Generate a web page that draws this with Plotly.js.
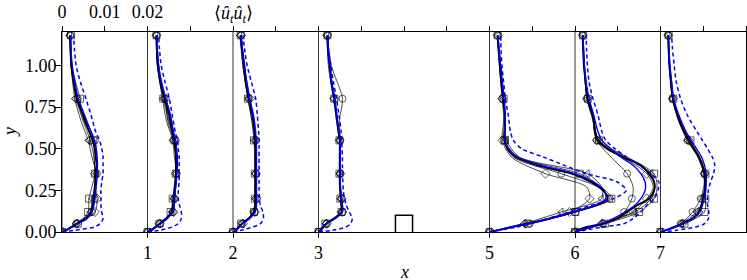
<!DOCTYPE html>
<html><head><meta charset="utf-8">
<script src="https://cdn.plot.ly/plotly-3.0.1.min.js"></script>
<style>html,body{margin:0;padding:0;background:#fff}</style>
</head><body><div id="chart" style="width:747px;height:280px"></div>
<script>
// Stations (x positions of the profiles)
const stations = [0, 1, 2, 3, 5, 6, 7];
const xTickVals = [1, 2, 3, 5, 6, 7];
const xTickText = ['1', '2', '3', '5', '6', '7'];
const yTickVals = [0, 0.25, 0.5, 0.75, 1.0];
const yTickText = ['0.00', '0.25', '0.50', '0.75', '1.00'];
const topTickVals = [0, 0.01, 0.02, 0.03, 0.04, 0.05, 0.06, 0.07, 0.08, 0.09, 0.10, 0.11, 0.12, 0.13, 0.14, 0.15, 0.16];
const topTickText = ['0', '0.01', '0.02', ' ', ' ', ' ', ' ', ' ', ' ', ' ', ' ', ' ', ' ', ' ', ' ', ' ', ' '];
// scale: 0.01 of <uu> spans 0.5 units of x
const SCALE = 50;

// obstacle outline
const obstacleX = [3.9, 3.9, 4.1, 4.1];
const obstacleY = [0, 0.1, 0.1, 0];

// y grid of the continuous profiles
const yLine = [0, 0.01, 0.03, 0.05, 0.08, 0.12, 0.16, 0.2, 0.25, 0.3, 0.35, 0.4, 0.45, 0.5, 0.55, 0.6, 0.7, 0.8, 0.9, 1.0, 1.1, 1.18];

// reference (thick black) <uu> per station
const refBlack = [
  [0, 0.0009, 0.0023, 0.0035, 0.0056, 0.0068, 0.0072, 0.0075, 0.0076, 0.0078, 0.0079, 0.0081, 0.0079, 0.0077, 0.0072, 0.0064, 0.0049, 0.0035, 0.0028, 0.0022, 0.0020, 0.0019],
  [0, 0.0009, 0.0019, 0.0029, 0.0044, 0.0057, 0.0060, 0.0061, 0.0063, 0.0065, 0.0067, 0.0067, 0.0067, 0.0065, 0.0063, 0.0058, 0.0051, 0.0040, 0.0030, 0.0025, 0.0022, 0.0021],
  [0, 0.0007, 0.0014, 0.0021, 0.0037, 0.0050, 0.0053, 0.0053, 0.0053, 0.0053, 0.0053, 0.0053, 0.0053, 0.0053, 0.0052, 0.0051, 0.0046, 0.0037, 0.0030, 0.0026, 0.0021, 0.0018],
  [0, 0.0005, 0.0011, 0.0018, 0.0037, 0.0055, 0.0054, 0.0053, 0.0051, 0.0050, 0.0050, 0.0050, 0.0050, 0.0050, 0.0050, 0.0047, 0.0042, 0.0037, 0.0030, 0.0026, 0.0022, 0.0021],
  [0, 0.0019, 0.0051, 0.0089, 0.0140, 0.0196, 0.0248, 0.0276, 0.0266, 0.0238, 0.0192, 0.0112, 0.0061, 0.0042, 0.0035, 0.0035, 0.0036, 0.0032, 0.0028, 0.0025, 0.0021, 0.0019],
  [0, 0.0005, 0.0028, 0.0065, 0.0098, 0.0121, 0.0145, 0.0173, 0.0185, 0.0185, 0.0173, 0.0154, 0.0112, 0.0075, 0.0054, 0.0047, 0.0042, 0.0029, 0.0025, 0.0021, 0.0019, 0.0018],
  [0, 0.0012, 0.0033, 0.0051, 0.0075, 0.0090, 0.0096, 0.0100, 0.0104, 0.0104, 0.0103, 0.0098, 0.0090, 0.0078, 0.0067, 0.0056, 0.0040, 0.0029, 0.0025, 0.0021, 0.0019, 0.0018]
];
// blue solid <uu> per station
const blueSolid = [
  [0, 0.0009, 0.0024, 0.0037, 0.0058, 0.0070, 0.0074, 0.0077, 0.0079, 0.0081, 0.0082, 0.0083, 0.0082, 0.0080, 0.0076, 0.0068, 0.0053, 0.0038, 0.0030, 0.0024, 0.0021, 0.0020],
  [0, 0.0009, 0.0020, 0.0030, 0.0046, 0.0059, 0.0062, 0.0063, 0.0065, 0.0067, 0.0069, 0.0070, 0.0070, 0.0068, 0.0066, 0.0061, 0.0054, 0.0043, 0.0032, 0.0026, 0.0023, 0.0022],
  [0, 0.0007, 0.0015, 0.0022, 0.0038, 0.0052, 0.0055, 0.0055, 0.0055, 0.0055, 0.0055, 0.0055, 0.0055, 0.0055, 0.0054, 0.0053, 0.0048, 0.0039, 0.0032, 0.0027, 0.0022, 0.0019],
  [0, 0.0005, 0.0012, 0.0019, 0.0038, 0.0056, 0.0055, 0.0054, 0.0052, 0.0051, 0.0051, 0.0051, 0.0051, 0.0051, 0.0051, 0.0048, 0.0043, 0.0038, 0.0031, 0.0027, 0.0023, 0.0022],
  [0, 0.0019, 0.0052, 0.0090, 0.0142, 0.0198, 0.0246, 0.0272, 0.0268, 0.0243, 0.0200, 0.0122, 0.0066, 0.0045, 0.0037, 0.0036, 0.0037, 0.0034, 0.0030, 0.0026, 0.0022, 0.0020],
  [0, 0.0009, 0.0037, 0.0061, 0.0089, 0.0117, 0.0140, 0.0154, 0.0164, 0.0164, 0.0154, 0.0136, 0.0107, 0.0084, 0.0063, 0.0054, 0.0044, 0.0033, 0.0026, 0.0022, 0.0020, 0.0019],
  [0, 0.0012, 0.0034, 0.0053, 0.0077, 0.0092, 0.0098, 0.0102, 0.0106, 0.0107, 0.0107, 0.0103, 0.0096, 0.0084, 0.0072, 0.0060, 0.0043, 0.0031, 0.0026, 0.0022, 0.0020, 0.0019]
];
// blue dashed <uu> per station
const blueDashed = [
  [0, 0.0029, 0.0076, 0.0089, 0.0096, 0.0093, 0.0091, 0.0091, 0.0091, 0.0093, 0.0096, 0.0096, 0.0096, 0.0093, 0.0088, 0.0079, 0.0068, 0.0056, 0.0043, 0.0033, 0.0029, 0.0027],
  [0, 0.0028, 0.0058, 0.0072, 0.0079, 0.0079, 0.0075, 0.0072, 0.0072, 0.0074, 0.0074, 0.0074, 0.0074, 0.0072, 0.0070, 0.0065, 0.0058, 0.0051, 0.0041, 0.0032, 0.0028, 0.0026],
  [0, 0.0019, 0.0047, 0.0064, 0.0071, 0.0070, 0.0064, 0.0062, 0.0061, 0.0061, 0.0061, 0.0061, 0.0061, 0.0061, 0.0061, 0.0060, 0.0057, 0.0053, 0.0043, 0.0033, 0.0027, 0.0023],
  [0, 0.0033, 0.0064, 0.0075, 0.0079, 0.0072, 0.0065, 0.0061, 0.0058, 0.0057, 0.0056, 0.0056, 0.0056, 0.0055, 0.0054, 0.0053, 0.0048, 0.0042, 0.0035, 0.0029, 0.0023, 0.0021],
  [0, 0.0023, 0.0065, 0.0098, 0.0136, 0.0187, 0.0238, 0.0290, 0.0320, 0.0299, 0.0227, 0.0175, 0.0126, 0.0075, 0.0056, 0.0049, 0.0044, 0.0037, 0.0033, 0.0029, 0.0027, 0.0026],
  [0, 0.0023, 0.0065, 0.0114, 0.0136, 0.0154, 0.0168, 0.0185, 0.0194, 0.0196, 0.0178, 0.0150, 0.0121, 0.0093, 0.0072, 0.0063, 0.0054, 0.0042, 0.0033, 0.0029, 0.0027, 0.0026],
  [0, 0.0037, 0.0082, 0.0103, 0.0112, 0.0113, 0.0110, 0.0110, 0.0112, 0.0117, 0.0124, 0.0127, 0.0121, 0.0110, 0.0098, 0.0086, 0.0063, 0.0047, 0.0037, 0.0032, 0.0028, 0.0026]
];

// y grid of the marker series
const yMark = [0, 0.05, 0.12, 0.2, 0.27, 0.35, 0.45, 0.55, 0.67, 0.8, 1.0, 1.18];
const circleRuns = [
  [0, 0.0033, 0.0070, 0.0077, 0.0080, 0.0082, 0.0082, 0.0077, 0.0056, 0.0037, 0.0023, 0.0019],
  [0, 0.0030, 0.0059, 0.0063, 0.0066, 0.0068, 0.0068, 0.0066, 0.0051, 0.0040, 0.0023, 0.0021],
  [0, 0.0021, 0.0051, 0.0056, 0.0054, 0.0054, 0.0054, 0.0054, 0.0047, 0.0037, 0.0026, 0.0019],
  [0, 0.0019, 0.0056, 0.0054, 0.0051, 0.0051, 0.0051, 0.0051, 0.0049, 0.0056, 0.0030, 0.0021],
  [0, 0.0094, 0.0201, 0.0281, 0.0253, 0.0168, 0.0056, 0.0035, 0.0037, 0.0030, 0.0023, 0.0019],
  [0, 0.0066, 0.0115, 0.0133, 0.0136, 0.0122, 0.0084, 0.0051, 0.0042, 0.0028, 0.0021, 0.0018],
  [0, 0.0047, 0.0075, 0.0094, 0.0101, 0.0103, 0.0089, 0.0063, 0.0042, 0.0028, 0.0021, 0.0018]
];
const squareRuns = [
  [0, 0.0037, 0.0061, 0.0063, 0.0070, 0.0077, 0.0075, 0.0073, 0.0051, 0.0042, 0.0023, 0.0021],
  [0, 0.0028, 0.0054, 0.0059, 0.0063, 0.0066, 0.0066, 0.0063, 0.0049, 0.0037, 0.0023, 0.0021],
  [0, 0.0019, 0.0049, 0.0051, 0.0051, 0.0051, 0.0051, 0.0049, 0.0044, 0.0035, 0.0023, 0.0018],
  [0, 0.0016, 0.0054, 0.0051, 0.0051, 0.0049, 0.0049, 0.0049, 0.0044, 0.0037, 0.0026, 0.0021],
  [0, 0.0089, 0.0201, 0.0285, 0.0262, 0.0211, 0.0066, 0.0035, 0.0037, 0.0033, 0.0026, 0.0019],
  [0, 0.0070, 0.0150, 0.0185, 0.0192, 0.0185, 0.0122, 0.0056, 0.0044, 0.0030, 0.0021, 0.0019],
  [0, 0.0056, 0.0103, 0.0105, 0.0105, 0.0105, 0.0091, 0.0070, 0.0047, 0.0030, 0.0021, 0.0019]
];
const diamondRuns = [
  [0, 0.0035, 0.0077, 0.0082, 0.0077, 0.0077, 0.0075, 0.0066, 0.0049, 0.0033, 0.0021, 0.0019],
  [0, 0.0028, 0.0061, 0.0063, 0.0066, 0.0066, 0.0066, 0.0061, 0.0047, 0.0042, 0.0026, 0.0021],
  [0, 0.0023, 0.0051, 0.0054, 0.0054, 0.0054, 0.0054, 0.0051, 0.0047, 0.0040, 0.0026, 0.0019],
  [0, 0.0019, 0.0056, 0.0054, 0.0051, 0.0051, 0.0049, 0.0049, 0.0044, 0.0037, 0.0026, 0.0020],
  [0, 0.0084, 0.0187, 0.0234, 0.0227, 0.0131, 0.0051, 0.0030, 0.0033, 0.0030, 0.0023, 0.0019],
  [0, 0.0063, 0.0136, 0.0168, 0.0183, 0.0168, 0.0112, 0.0051, 0.0042, 0.0028, 0.0021, 0.0018],
  [0, 0.0051, 0.0089, 0.0098, 0.0103, 0.0103, 0.0089, 0.0066, 0.0044, 0.0029, 0.0021, 0.0018]
];
const triangleRuns = [
  [0, 0.0033, 0.0066, 0.0070, 0.0077, 0.0080, 0.0070, 0.0061, 0.0044, 0.0030, 0.0021, 0.0018],
  [0, 0.0026, 0.0056, 0.0061, 0.0066, 0.0068, 0.0063, 0.0059, 0.0044, 0.0035, 0.0023, 0.0020],
  [0, 0.0021, 0.0047, 0.0051, 0.0051, 0.0051, 0.0051, 0.0051, 0.0044, 0.0035, 0.0023, 0.0016],
  [0, 0.0016, 0.0051, 0.0051, 0.0049, 0.0049, 0.0049, 0.0049, 0.0042, 0.0035, 0.0023, 0.0020],
  [0, 0.0080, 0.0168, 0.0262, 0.0262, 0.0229, 0.0070, 0.0040, 0.0037, 0.0033, 0.0026, 0.0020],
  [0, 0.0061, 0.0140, 0.0178, 0.0187, 0.0178, 0.0117, 0.0054, 0.0044, 0.0029, 0.0022, 0.0019],
  [0, 0.0049, 0.0084, 0.0101, 0.0103, 0.0101, 0.0087, 0.0063, 0.0042, 0.0028, 0.0020, 0.0018]
];

const markerSizes = [7, 7, 7, 7, 0, 7, 0, 7, 0, 7, 0, 7];
const traces = [];
function shifted(s, vals) { return vals.map(v => s + v * SCALE); }

const markerSets = [
  [circleRuns, 'circle-open'],
  [squareRuns, 'square-open'],
  [diamondRuns, 'diamond-open'],
  [triangleRuns, 'triangle-left-open']
];
stations.forEach((s, i) => {
  markerSets.forEach(([runs, sym]) => {
    traces.push({
      x: shifted(s, runs[i]), y: yMark, mode: 'lines+markers', hoverinfo: 'skip',
      line: {color: '#000', width: 0.7, shape: 'spline', smoothing: 0.8},
      marker: {symbol: sym, size: markerSizes, color: '#000', line: {color: '#000', width: 0.9}}
    });
  });
});
stations.forEach((s, i) => {
  traces.push({x: shifted(s, refBlack[i]), y: yLine, mode: 'lines', hoverinfo: 'skip',
    line: {color: '#000', width: 2, shape: 'spline', smoothing: 0.8}});
});
stations.forEach((s, i) => {
  traces.push({x: shifted(s, blueSolid[i]), y: yLine, mode: 'lines', hoverinfo: 'skip',
    line: {color: '#0000ff', width: 1.4, shape: 'spline', smoothing: 0.8}});
});
stations.forEach((s, i) => {
  traces.push({x: shifted(s, blueDashed[i]), y: yLine, mode: 'lines', hoverinfo: 'skip',
    line: {color: '#0000ff', width: 1.5, dash: '4px,3px', shape: 'spline', smoothing: 0.8}});
});
traces.push({x: obstacleX, y: obstacleY, mode: 'lines', hoverinfo: 'skip', line: {color: '#000', width: 1.5}});
traces.push({x: [0], y: [0], xaxis: 'x2', yaxis: 'y', mode: 'markers', marker: {opacity: 0}, hoverinfo: 'skip'});

const FAM = '"Liberation Serif", "DejaVu Serif", serif';
const F18 = {family: FAM, size: 18, color: '#000'};
const layout = {
  width: 747, height: 280,
  margin: {l: 62, r: 1, t: 32, b: 48, pad: 0},
  paper_bgcolor: '#fff', plot_bgcolor: '#fff', showlegend: false,
  font: F18,
  xaxis: {range: [0, 8], tickvals: xTickVals, ticktext: xTickText, ticks: 'outside', ticklen: 5,
    tickwidth: 1, tickcolor: '#000', tickfont: F18, ticklabelstandoff: -1, showline: true, linecolor: '#000', linewidth: 1,
    showgrid: false, zeroline: false, fixedrange: true},
  xaxis2: {range: [0, 0.16], overlaying: 'x', side: 'top', anchor: 'y', tickvals: topTickVals,
    ticktext: topTickText, ticks: 'outside', ticklen: 5, tickwidth: 1, tickcolor: '#000', tickfont: F18,
    ticklabelstandoff: 1, showline: true, linecolor: '#000', linewidth: 1, showgrid: false, zeroline: false},
  yaxis: {range: [0, 1.2], tickvals: yTickVals, ticktext: yTickText, ticks: 'outside', ticklen: 6,
    tickwidth: 1, tickcolor: '#000', tickfont: F18, ticklabelstandoff: -5, showline: true, mirror: true,
    linecolor: '#000', linewidth: 1, showgrid: false, zeroline: false},
  shapes: stations.map(s => ({type: 'line', xref: 'x', yref: 'paper', x0: s, x1: s, y0: 0, y1: 1,
    layer: 'below', line: {color: '#333', width: 1}})),
  annotations: [
    {text: '⟨<i>û<sub>t</sub>û<sub>t</sub></i>⟩', xref: 'x', yref: 'paper', x: 2, y: 1, yshift: 18,
      yanchor: 'middle', showarrow: false, font: F18},
    {text: '<i>x</i>', xref: 'x', yref: 'paper', x: 4, y: 0, yshift: -40, yanchor: 'middle',
      showarrow: false, font: F18},
    {text: '<i>y</i>', xref: 'paper', yref: 'paper', x: 0, y: 0.5, xshift: -52, xanchor: 'center',
      yanchor: 'middle', textangle: -90, showarrow: false, font: F18}
  ]
};
Plotly.newPlot('chart', traces, layout, {staticPlot: true, displayModeBar: false});
</script></body></html>
